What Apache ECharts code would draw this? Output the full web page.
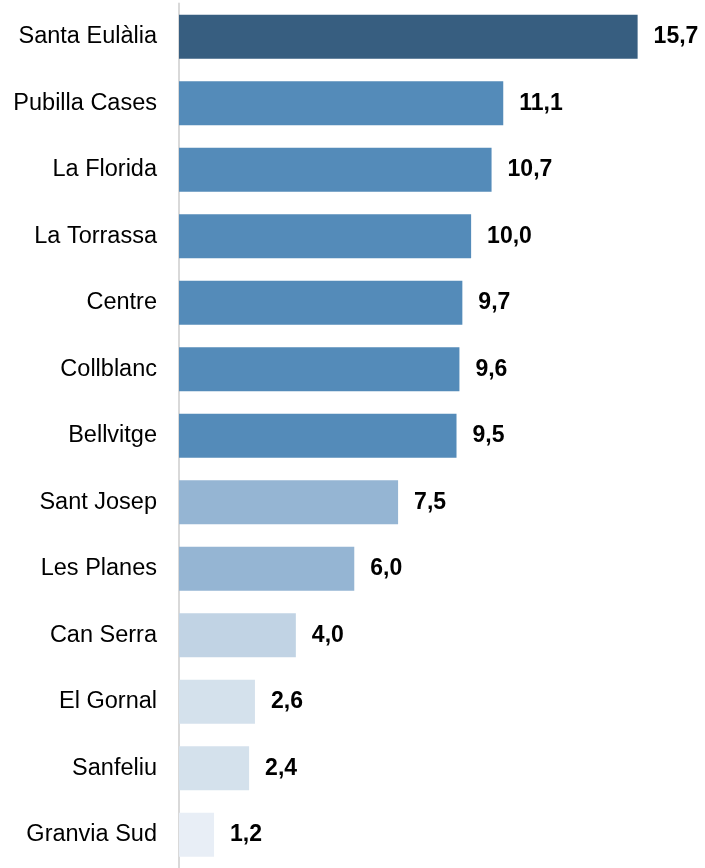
<!DOCTYPE html>
<html>
<head>
<meta charset="utf-8">
<script src="https://cdn.jsdelivr.net/npm/echarts@6/dist/echarts.min.js"></script>
<style>
html,body{margin:0;padding:0;background:#fff;}
#chart{width:705px;height:868px;}
</style>
</head>
<body>
<div id="chart"></div>
<script>
const categories = ["Santa Eulàlia","Pubilla Cases","La Florida","La Torrassa","Centre","Collblanc","Bellvitge","Sant Josep","Les Planes","Can Serra","El Gornal","Sanfeliu","Granvia Sud"];
const values = [15.7,11.1,10.7,10.0,9.7,9.6,9.5,7.5,6.0,4.0,2.6,2.4,1.2];
const colors = ["#375E80","#548BB9","#548BB9","#548BB9","#548BB9","#548BB9","#548BB9","#95B5D3","#95B5D3","#C1D3E4","#D4E1EC","#D4E1EC","#E8EEF6"];

const chart = echarts.init(document.getElementById('chart'));
chart.setOption({
  animation:false,
  grid:{left:179,width:496.6,top:3.5,height:870,containLabel:false},
  xAxis:{type:'value',min:0,max:17,show:false},
  yAxis:{type:'category',data:categories,inverse:true,
    axisLine:{show:true,lineStyle:{color:'#d9d9d9',width:2}},
    axisTick:{show:false},
    axisLabel:{color:'#000',fontFamily:'Liberation Sans',fontSize:23.5,margin:22}
  },
  series:[{type:'bar',barWidth:'65.8%',
    data:values.map((v,i)=>({value:v,itemStyle:{color:colors[i]}})),
    label:{show:true,position:'right',distance:16,color:'#000',fontWeight:'bold',fontFamily:'Liberation Sans',fontSize:23,
      formatter:p=>p.value.toFixed(1).replace('.',',')}
  }]
});
</script>
</body>
</html>
